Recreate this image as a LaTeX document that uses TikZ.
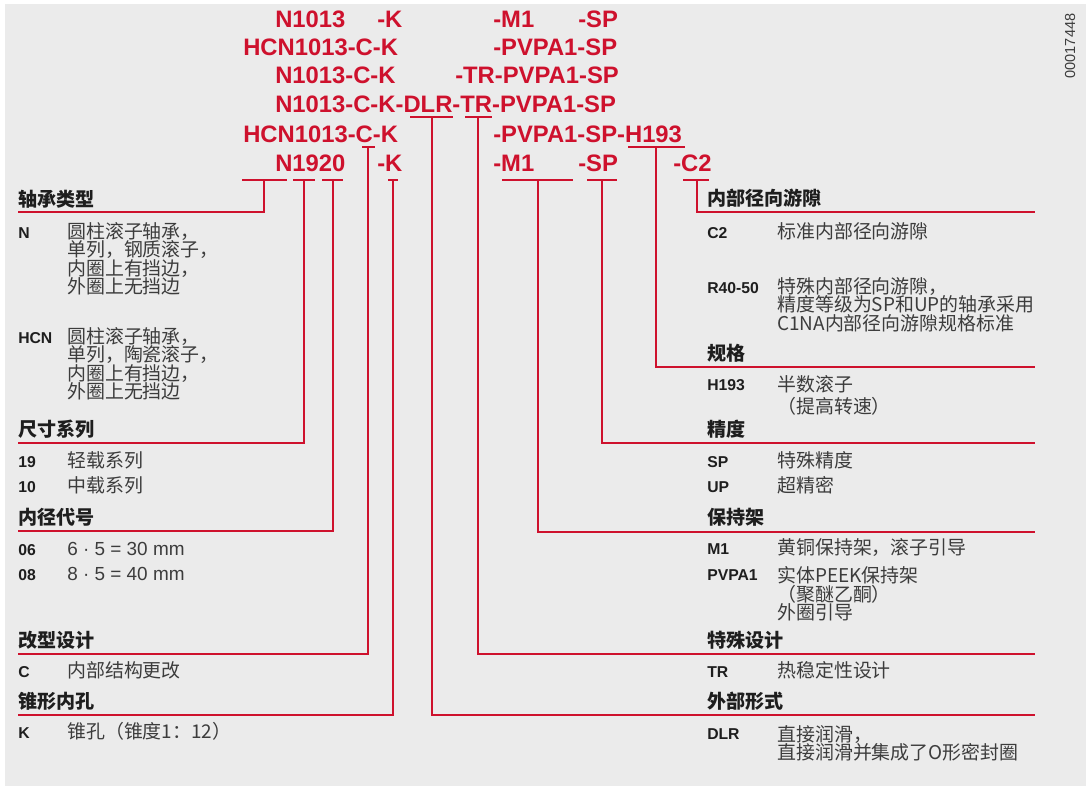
\documentclass[tikz,border=0pt]{standalone}
\usepackage{fontspec}
\setmainfont{Liberation Sans}
\newfontfamily\cjk{Noto Sans CJK SC}
\usetikzlibrary{calc}
\definecolor{CodeRed}{RGB}{206,17,45}
\definecolor{PanelGray}{RGB}{235,235,235}
\definecolor{DescGray}{RGB}{60,60,60}
\definecolor{KeyBlack}{RGB}{30,30,30}

\begin{document}
\begin{tikzpicture}[
  x=0.75pt, y=-0.75pt,
  code/.style={anchor=base west, inner sep=0pt, text=CodeRed, font=\bfseries\fontsize{17.85}{20}\selectfont},
  head/.style={anchor=base west, inner sep=0pt, text=KeyBlack, font=\cjk\bfseries\fontsize{14.3}{16}\selectfont},
  key/.style={anchor=base west, inner sep=0pt, text=KeyBlack, font=\bfseries\fontsize{11.8}{13}\selectfont},
  desc/.style={anchor=base west, inner sep=0pt, align=left, text=DescGray, font=\cjk\fontsize{14.2}{13.8}\selectfont},
  link/.style={CodeRed, line width=2pt}
]
  \useasboundingbox (0,0) rectangle (1086,786);
  \fill[PanelGray] (5,4) rectangle (1086,786);
  \node[rotate=90, text=DescGray, font=\fontsize{10.9}{12}\selectfont] (docid) at (1070,46) {00017448};

  % order designations
  \node[code] (r1a) at (275,27) {N1013};
  \node[code] (r1b) at (377,27) {-K};
  \node[code] (r1c) at (493,27) {-M1};
  \node[code] (r1d) at (578,27) {-SP};
  \node[code] (r2a) at (243,55) {HCN1013-C-K};
  \node[code] (r2b) at (493,55) {-PVPA1-SP};
  \node[code] (r3a) at (275,83.5) {N1013-C-K};
  \node[code] (r3b) at (455,83.5) {-TR-PVPA1-SP};
  \node[code] (r4a) at (275,112) {N1013-C-K-DLR-TR-PVPA1-SP};
  \node[code] (r5a) at (243,142) {HCN1013-C-K};
  \node[code] (r5b) at (493,142) {-PVPA1-SP-H193};
  \node[code] (r6a) at (275,171) {N1920};
  \node[code] (r6b) at (377,171) {-K};
  \node[code] (r6c) at (493,171) {-M1};
  \node[code] (r6d) at (578,171) {-SP};
  \node[code] (r6e) at (673,171) {-C2};

  % bracket points
  \coordinate (sType) at (264,180);    \coordinate (eType) at (18,212);
  \coordinate (sSeries) at (304,180);  \coordinate (eSeries) at (18,443);
  \coordinate (sBore) at (333,180);    \coordinate (eBore) at (18,531);
  \coordinate (sMod) at (368,147);     \coordinate (eMod) at (18,654);
  \coordinate (sTaper) at (393,180);   \coordinate (eTaper) at (18,715);
  \coordinate (sExt) at (432,117);     \coordinate (eExt) at (1035,715);
  \coordinate (sSpecial) at (478,117); \coordinate (eSpecial) at (1035,654);
  \coordinate (sCage) at (538,180);    \coordinate (eCage) at (1035,532);
  \coordinate (sPrec) at (602,180);    \coordinate (ePrec) at (1035,443);
  \coordinate (sSpec) at (656,147);    \coordinate (eSpec) at (1035,367);
  \coordinate (sClr) at (697,180);     \coordinate (eClr) at (1035,212);

  \draw[link] ($(sType)+(-22,0)$) -- ($(sType)+(23,0)$) (sType) |- (eType);
  \draw[link] ($(sSeries)+(-11,0)$) -- ($(sSeries)+(11,0)$) (sSeries) |- (eSeries);
  \draw[link] ($(sBore)+(-11,0)$) -- ($(sBore)+(10,0)$) (sBore) |- (eBore);
  \draw[link] ($(sMod)+(-6,0)$) -- ($(sMod)+(7,0)$) (sMod) |- (eMod);
  \draw[link] ($(sTaper)+(-5,0)$) -- ($(sTaper)+(5,0)$) (sTaper) |- (eTaper);
  \draw[link] ($(sExt)+(-22,0)$) -- ($(sExt)+(21,0)$) (sExt) |- (eExt);
  \draw[link] ($(sSpecial)+(-13,0)$) -- ($(sSpecial)+(14,0)$) (sSpecial) |- (eSpecial);
  \draw[link] ($(sCage)+(-36,0)$) -- ($(sCage)+(35,0)$) (sCage) |- (eCage);
  \draw[link] ($(sPrec)+(-15,0)$) -- ($(sPrec)+(15,0)$) (sPrec) |- (ePrec);
  \draw[link] ($(sSpec)+(-28,0)$) -- ($(sSpec)+(29,0)$) (sSpec) |- (eSpec);
  \draw[link] ($(sClr)+(-14,0)$) -- ($(sClr)+(12,0)$) (sClr) |- (eClr);

  % left column (multi-line texts sit on their last baseline)
  \node[head] (hType) at (18,206) {轴承类型};
  \node[key] (kN) at (18,238.5) {N};
  \node[desc] (dN) at (67,293.5) {圆柱滚子轴承，\\单列，钢质滚子，\\内圈上有挡边，\\外圈上无挡边};
  \node[key] (kHCN) at (18,343.5) {HCN};
  \node[desc] (dHCN) at (67,398.5) {圆柱滚子轴承，\\单列，陶瓷滚子，\\内圈上有挡边，\\外圈上无挡边};
  \node[head] (hSeries) at (18,436) {尺寸系列};
  \node[key] (k19) at (18,467.5) {19};
  \node[desc] (d19) at (67,467.5) {轻载系列};
  \node[key] (k10) at (18,492.5) {10};
  \node[desc] (d10) at (67,492.5) {中载系列};
  \node[head] (hBore) at (18,524) {内径代号};
  \node[key] (k06) at (18,555.5) {06};
  \node[desc] (d06) at (67,555.5) {\rmfamily 6 · 5 = 30 mm};
  \node[key] (k08) at (18,580.5) {08};
  \node[desc] (d08) at (67,580.5) {\rmfamily 8 · 5 = 40 mm};
  \node[head] (hMod) at (18,647) {改型设计};
  \node[key] (kC) at (18,677.5) {C};
  \node[desc] (dC) at (67,677.5) {内部结构更改};
  \node[head] (hTaper) at (18,708) {锥形内孔};
  \node[key] (kK) at (18,738.5) {K};
  \node[desc] (dK) at (67,738.5) {锥孔（锥度1：12）};

  % right column
  \node[head] (hClr) at (707,205) {内部径向游隙};
  \node[key] (kC2) at (707,238.5) {C2};
  \node[desc] (dC2) at (777,238.5) {标准内部径向游隙};
  \node[key] (kR) at (707,293.5) {R40-50};
  \node[desc] (dR) at (777,330) {特殊内部径向游隙，\\精度等级为SP和UP的轴承采用\\C1NA内部径向游隙规格标准};
  \node[head] (hSpec) at (707,360) {规格};
  \node[key] (kH) at (707,390.5) {H193};
  \node[desc] (dH) at (777,413.5) {半数滚子\\[3pt]（提高转速）};
  \node[head] (hPrec) at (707,436) {精度};
  \node[key] (kSP) at (707,467.5) {SP};
  \node[desc] (dSP) at (777,467.5) {特殊精度};
  \node[key] (kUP) at (707,492.5) {UP};
  \node[desc] (dUP) at (777,492.5) {超精密};
  \node[head] (hCage) at (707,524) {保持架};
  \node[key] (kM1) at (707,554.5) {M1};
  \node[desc] (dM1) at (777,554.5) {黄铜保持架，滚子引导};
  \node[key] (kPV) at (707,580.5) {PVPA1};
  \node[desc] (dPV) at (777,619.5) {实体PEEK保持架\\（聚醚乙酮）\\外圈引导};
  \node[head] (hSpecial) at (707,647) {特殊设计};
  \node[key] (kTR) at (707,677.5) {TR};
  \node[desc] (dTR) at (777,677.5) {热稳定性设计};
  \node[head] (hExt) at (707,708) {外部形式};
  \node[key] (kDLR) at (707,739.5) {DLR};
  \node[desc] (dDLR) at (777,759.5) {直接润滑，\\直接润滑并集成了O形密封圈};
\end{tikzpicture}
\end{document}
